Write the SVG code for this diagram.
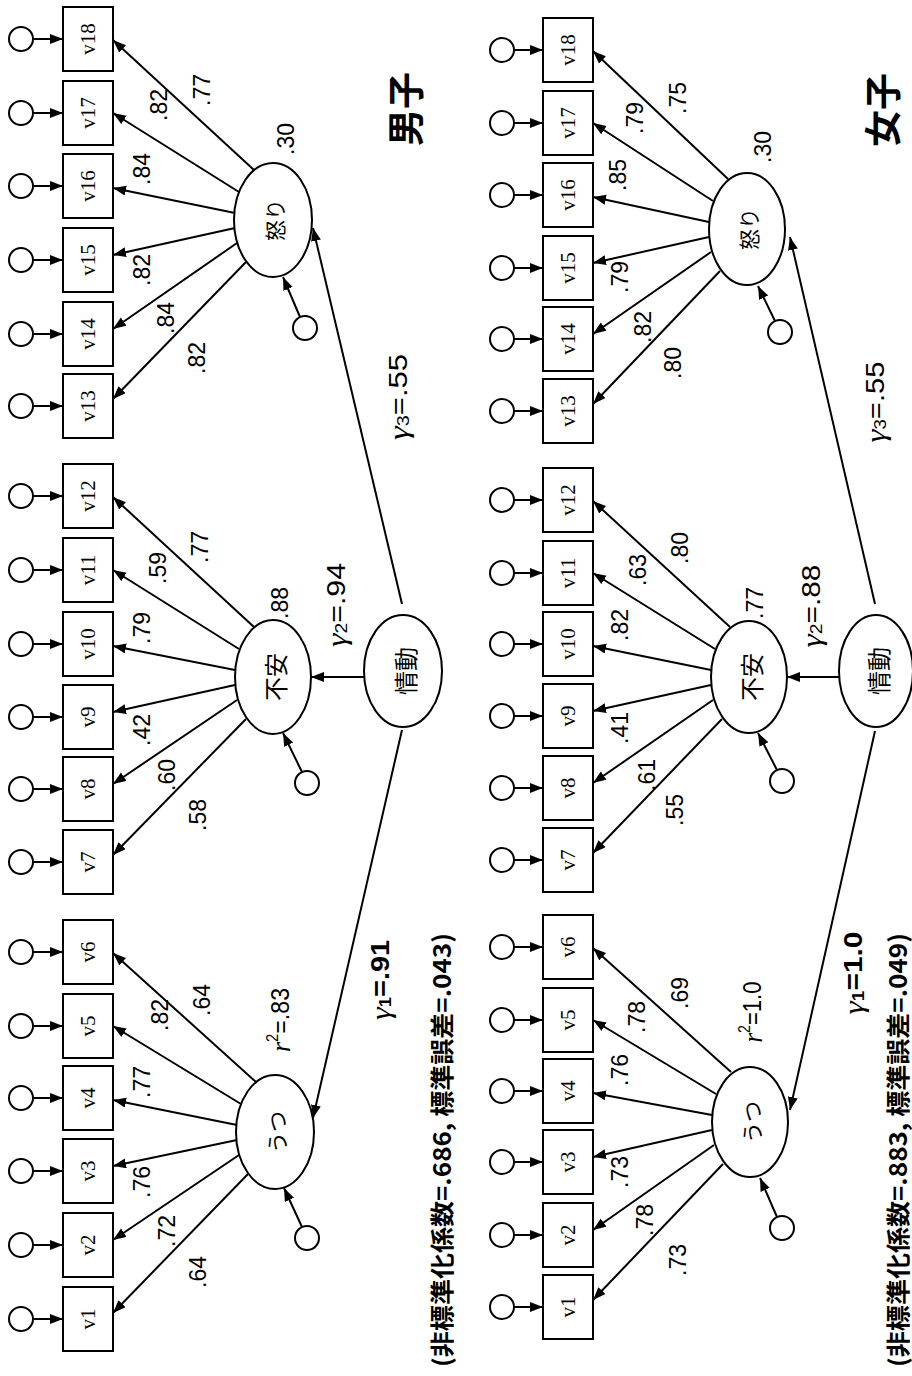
<svg xmlns="http://www.w3.org/2000/svg" width="912" height="1376" viewBox="0 0 912 1376">
<style>
.box{fill:#fff;stroke:#000;stroke-width:2}
.err{fill:#fff;stroke:#000;stroke-width:2}
.lat{fill:#fff;stroke:#000;stroke-width:2}
.ln{stroke:#000;stroke-width:2;fill:none;marker-end:url(#ah)}
text{text-anchor:middle;dominant-baseline:central}
.vl{font-family:"Liberation Serif","Times New Roman",serif;font-size:21px}
.num{font-family:"Liberation Sans",Arial,sans-serif;font-size:23px}
.lt{font-family:"Noto Sans CJK JP",sans-serif;font-size:24px}
.lts{font-family:"Noto Sans CJK JP",sans-serif;font-size:21px}
.gam{font-family:"Liberation Sans",Arial,sans-serif;font-size:25px}
.gs{font-family:"Liberation Serif",serif;font-style:italic;font-size:28px}
.sb{font-size:16px}
.ttl{font-family:"Noto Sans CJK JP",sans-serif;font-size:37px;font-weight:bold}
.cap{font-family:"Noto Sans CJK JP",sans-serif;font-size:24px;font-weight:bold}
</style>
<defs>
<marker id="ah" markerUnits="userSpaceOnUse" markerWidth="14" markerHeight="11" refX="13" refY="5" orient="auto">
<path d="M0,0 L13,5 L0,10 z" fill="#000"/>
</marker>
</defs>

<!-- ===== LEFT PANEL (男子) ===== -->
<g id="L-errors">
<circle class="err" cx="21" cy="1319" r="12"/><circle class="err" cx="21" cy="1245" r="12"/><circle class="err" cx="21" cy="1171" r="12"/>
<circle class="err" cx="21" cy="1098" r="12"/><circle class="err" cx="21" cy="1026" r="12"/><circle class="err" cx="21" cy="952" r="12"/>
<circle class="err" cx="21" cy="862" r="12"/><circle class="err" cx="21" cy="789" r="12"/><circle class="err" cx="21" cy="717" r="12"/>
<circle class="err" cx="21" cy="644" r="12"/><circle class="err" cx="21" cy="570" r="12"/><circle class="err" cx="21" cy="496" r="12"/>
<circle class="err" cx="21" cy="406" r="12"/><circle class="err" cx="21" cy="334" r="12"/><circle class="err" cx="21" cy="260" r="12"/>
<circle class="err" cx="21" cy="186" r="12"/><circle class="err" cx="21" cy="113" r="12"/><circle class="err" cx="21" cy="39" r="12"/>
</g>
<g id="L-v1"><rect class="box" x="63" y="1287" width="50" height="64"/><text class="vl" transform="translate(88,1319) rotate(-90)">v1</text></g>
<g id="L-v2"><rect class="box" x="63" y="1213" width="50" height="64"/><text class="vl" transform="translate(88,1245) rotate(-90)">v2</text></g>
<g id="L-v3"><rect class="box" x="63" y="1139" width="50" height="64"/><text class="vl" transform="translate(88,1171) rotate(-90)">v3</text></g>
<g id="L-v4"><rect class="box" x="63" y="1066" width="50" height="64"/><text class="vl" transform="translate(88,1098) rotate(-90)">v4</text></g>
<g id="L-v5"><rect class="box" x="63" y="994" width="50" height="64"/><text class="vl" transform="translate(88,1026) rotate(-90)">v5</text></g>
<g id="L-v6"><rect class="box" x="63" y="920" width="50" height="64"/><text class="vl" transform="translate(88,952) rotate(-90)">v6</text></g>
<g id="L-v7"><rect class="box" x="63" y="830" width="50" height="64"/><text class="vl" transform="translate(88,862) rotate(-90)">v7</text></g>
<g id="L-v8"><rect class="box" x="63" y="757" width="50" height="64"/><text class="vl" transform="translate(88,789) rotate(-90)">v8</text></g>
<g id="L-v9"><rect class="box" x="63" y="685" width="50" height="64"/><text class="vl" transform="translate(88,717) rotate(-90)">v9</text></g>
<g id="L-v10"><rect class="box" x="63" y="612" width="50" height="64"/><text class="vl" transform="translate(88,644) rotate(-90)">v10</text></g>
<g id="L-v11"><rect class="box" x="63" y="538" width="50" height="64"/><text class="vl" transform="translate(88,570) rotate(-90)">v11</text></g>
<g id="L-v12"><rect class="box" x="63" y="464" width="50" height="64"/><text class="vl" transform="translate(88,496) rotate(-90)">v12</text></g>
<g id="L-v13"><rect class="box" x="63" y="374" width="50" height="64"/><text class="vl" transform="translate(88,406) rotate(-90)">v13</text></g>
<g id="L-v14"><rect class="box" x="63" y="302" width="50" height="64"/><text class="vl" transform="translate(88,334) rotate(-90)">v14</text></g>
<g id="L-v15"><rect class="box" x="63" y="228" width="50" height="64"/><text class="vl" transform="translate(88,260) rotate(-90)">v15</text></g>
<g id="L-v16"><rect class="box" x="63" y="154" width="50" height="64"/><text class="vl" transform="translate(88,186) rotate(-90)">v16</text></g>
<g id="L-v17"><rect class="box" x="63" y="81" width="50" height="64"/><text class="vl" transform="translate(88,113) rotate(-90)">v17</text></g>
<g id="L-v18"><rect class="box" x="63" y="7" width="50" height="64"/><text class="vl" transform="translate(88,39) rotate(-90)">v18</text></g>

<g id="L-ikari"><ellipse class="lat" cx="273" cy="220" rx="39" ry="57"/><text class="lts" transform="translate(274,220) rotate(-90)">怒り</text></g>
<g id="L-fuan"><ellipse class="lat" cx="273" cy="677" rx="38" ry="57"/><text class="lt" transform="translate(274,677) rotate(-90)">不安</text></g>
<g id="L-utsu"><ellipse class="lat" cx="275" cy="1132" rx="39" ry="57"/><text class="lts" transform="translate(276,1132) rotate(-90)">うつ</text></g>
<g id="L-jodo"><ellipse class="lat" cx="403" cy="671" rx="39" ry="56"/><text class="lt" transform="translate(404,671) rotate(-90)">情動</text></g>
<g id="L-dist">
<circle class="err" cx="305" cy="328" r="12"/><circle class="err" cx="307" cy="783" r="12"/><circle class="err" cx="307" cy="1238" r="12"/>
</g>

<!-- ===== RIGHT PANEL (女子) ===== -->
<g id="R-errors">
<circle class="err" cx="502" cy="1307" r="12"/><circle class="err" cx="502" cy="1235" r="12"/><circle class="err" cx="502" cy="1162" r="12"/>
<circle class="err" cx="502" cy="1091" r="12"/><circle class="err" cx="502" cy="1020" r="12"/><circle class="err" cx="502" cy="947" r="12"/>
<circle class="err" cx="502" cy="860" r="12"/><circle class="err" cx="502" cy="788" r="12"/><circle class="err" cx="502" cy="716" r="12"/>
<circle class="err" cx="502" cy="644" r="12"/><circle class="err" cx="502" cy="573" r="12"/><circle class="err" cx="502" cy="500" r="12"/>
<circle class="err" cx="502" cy="411" r="12"/><circle class="err" cx="502" cy="339" r="12"/><circle class="err" cx="502" cy="268" r="12"/>
<circle class="err" cx="502" cy="195" r="12"/><circle class="err" cx="502" cy="123" r="12"/><circle class="err" cx="502" cy="50" r="12"/>
</g>
<g id="R-v1"><rect class="box" x="543" y="1275" width="50" height="64"/><text class="vl" transform="translate(568,1307) rotate(-90)">v1</text></g>
<g id="R-v2"><rect class="box" x="543" y="1203" width="50" height="64"/><text class="vl" transform="translate(568,1235) rotate(-90)">v2</text></g>
<g id="R-v3"><rect class="box" x="543" y="1130" width="50" height="64"/><text class="vl" transform="translate(568,1162) rotate(-90)">v3</text></g>
<g id="R-v4"><rect class="box" x="543" y="1059" width="50" height="64"/><text class="vl" transform="translate(568,1091) rotate(-90)">v4</text></g>
<g id="R-v5"><rect class="box" x="543" y="988" width="50" height="64"/><text class="vl" transform="translate(568,1020) rotate(-90)">v5</text></g>
<g id="R-v6"><rect class="box" x="543" y="915" width="50" height="64"/><text class="vl" transform="translate(568,947) rotate(-90)">v6</text></g>
<g id="R-v7"><rect class="box" x="543" y="828" width="50" height="64"/><text class="vl" transform="translate(568,860) rotate(-90)">v7</text></g>
<g id="R-v8"><rect class="box" x="543" y="756" width="50" height="64"/><text class="vl" transform="translate(568,788) rotate(-90)">v8</text></g>
<g id="R-v9"><rect class="box" x="543" y="684" width="50" height="64"/><text class="vl" transform="translate(568,716) rotate(-90)">v9</text></g>
<g id="R-v10"><rect class="box" x="543" y="612" width="50" height="64"/><text class="vl" transform="translate(568,644) rotate(-90)">v10</text></g>
<g id="R-v11"><rect class="box" x="543" y="541" width="50" height="64"/><text class="vl" transform="translate(568,573) rotate(-90)">v11</text></g>
<g id="R-v12"><rect class="box" x="543" y="468" width="50" height="64"/><text class="vl" transform="translate(568,500) rotate(-90)">v12</text></g>
<g id="R-v13"><rect class="box" x="543" y="379" width="50" height="64"/><text class="vl" transform="translate(568,411) rotate(-90)">v13</text></g>
<g id="R-v14"><rect class="box" x="543" y="307" width="50" height="64"/><text class="vl" transform="translate(568,339) rotate(-90)">v14</text></g>
<g id="R-v15"><rect class="box" x="543" y="236" width="50" height="64"/><text class="vl" transform="translate(568,268) rotate(-90)">v15</text></g>
<g id="R-v16"><rect class="box" x="543" y="163" width="50" height="64"/><text class="vl" transform="translate(568,195) rotate(-90)">v16</text></g>
<g id="R-v17"><rect class="box" x="543" y="91" width="50" height="64"/><text class="vl" transform="translate(568,123) rotate(-90)">v17</text></g>
<g id="R-v18"><rect class="box" x="543" y="18" width="50" height="64"/><text class="vl" transform="translate(568,50) rotate(-90)">v18</text></g>

<g id="R-ikari"><ellipse class="lat" cx="747" cy="229" rx="38" ry="56"/><text class="lts" transform="translate(748,229) rotate(-90)">怒り</text></g>
<g id="R-fuan"><ellipse class="lat" cx="749" cy="677" rx="38" ry="56"/><text class="lt" transform="translate(750,677) rotate(-90)">不安</text></g>
<g id="R-utsu"><ellipse class="lat" cx="750" cy="1122" rx="38" ry="55"/><text class="lts" transform="translate(751,1122) rotate(-90)">うつ</text></g>
<g id="R-jodo"><ellipse class="lat" cx="876" cy="671" rx="37" ry="56"/><text class="lt" transform="translate(877,671) rotate(-90)">情動</text></g>
<g id="R-dist">
<circle class="err" cx="780" cy="332" r="12"/><circle class="err" cx="782" cy="781" r="12"/><circle class="err" cx="782" cy="1228" r="12"/>
</g>

<!-- ===== CONNECTORS ===== -->
<g id="connectors">
<line class="ln" x1="33" y1="1319" x2="63" y2="1319"/><line class="ln" x1="33" y1="1245" x2="63" y2="1245"/><line class="ln" x1="33" y1="1171" x2="63" y2="1171"/>
<line class="ln" x1="33" y1="1098" x2="63" y2="1098"/><line class="ln" x1="33" y1="1026" x2="63" y2="1026"/><line class="ln" x1="33" y1="952" x2="63" y2="952"/>
<line class="ln" x1="33" y1="862" x2="63" y2="862"/><line class="ln" x1="33" y1="789" x2="63" y2="789"/><line class="ln" x1="33" y1="717" x2="63" y2="717"/>
<line class="ln" x1="33" y1="644" x2="63" y2="644"/><line class="ln" x1="33" y1="570" x2="63" y2="570"/><line class="ln" x1="33" y1="496" x2="63" y2="496"/>
<line class="ln" x1="33" y1="406" x2="63" y2="406"/><line class="ln" x1="33" y1="334" x2="63" y2="334"/><line class="ln" x1="33" y1="260" x2="63" y2="260"/>
<line class="ln" x1="33" y1="186" x2="63" y2="186"/><line class="ln" x1="33" y1="113" x2="63" y2="113"/><line class="ln" x1="33" y1="39" x2="63" y2="39"/>
<line class="ln" x1="254" y1="170" x2="113" y2="40"/><line class="ln" x1="239" y1="192" x2="113" y2="113"/><line class="ln" x1="235" y1="213" x2="113" y2="188"/>
<line class="ln" x1="235" y1="228" x2="113" y2="255"/><line class="ln" x1="237" y1="243" x2="113" y2="329"/><line class="ln" x1="246" y1="262" x2="113" y2="399"/>
<line class="ln" x1="254" y1="627" x2="113" y2="497"/><line class="ln" x1="239" y1="649" x2="113" y2="570"/><line class="ln" x1="235" y1="670" x2="113" y2="646"/>
<line class="ln" x1="235" y1="685" x2="113" y2="712"/><line class="ln" x1="237" y1="700" x2="113" y2="784"/><line class="ln" x1="246" y1="719" x2="113" y2="855"/>
<line class="ln" x1="256" y1="1082" x2="113" y2="953"/><line class="ln" x1="241" y1="1104" x2="113" y2="1026"/><line class="ln" x1="237" y1="1125" x2="113" y2="1100"/>
<line class="ln" x1="237" y1="1140" x2="113" y2="1166"/><line class="ln" x1="239" y1="1155" x2="113" y2="1240"/><line class="ln" x1="248" y1="1174" x2="113" y2="1313"/>
<line class="ln" x1="300" y1="317" x2="283" y2="277"/><line class="ln" x1="302" y1="772" x2="283" y2="733"/><line class="ln" x1="302" y1="1227" x2="284" y2="1188"/>
<line class="ln" x1="402" y1="604" x2="313" y2="228"/>
<line class="ln" x1="365" y1="677" x2="311" y2="677"/>
<line class="ln" x1="402" y1="730" x2="313" y2="1118"/>

<line class="ln" x1="514" y1="1307" x2="543" y2="1307"/><line class="ln" x1="514" y1="1235" x2="543" y2="1235"/><line class="ln" x1="514" y1="1162" x2="543" y2="1162"/>
<line class="ln" x1="514" y1="1091" x2="543" y2="1091"/><line class="ln" x1="514" y1="1020" x2="543" y2="1020"/><line class="ln" x1="514" y1="947" x2="543" y2="947"/>
<line class="ln" x1="514" y1="860" x2="543" y2="860"/><line class="ln" x1="514" y1="788" x2="543" y2="788"/><line class="ln" x1="514" y1="716" x2="543" y2="716"/>
<line class="ln" x1="514" y1="644" x2="543" y2="644"/><line class="ln" x1="514" y1="573" x2="543" y2="573"/><line class="ln" x1="514" y1="500" x2="543" y2="500"/>
<line class="ln" x1="514" y1="411" x2="543" y2="411"/><line class="ln" x1="514" y1="339" x2="543" y2="339"/><line class="ln" x1="514" y1="268" x2="543" y2="268"/>
<line class="ln" x1="514" y1="195" x2="543" y2="195"/><line class="ln" x1="514" y1="123" x2="543" y2="123"/><line class="ln" x1="514" y1="50" x2="543" y2="50"/>
<line class="ln" x1="728" y1="179" x2="593" y2="51"/><line class="ln" x1="713" y1="201" x2="593" y2="123"/><line class="ln" x1="709" y1="222" x2="593" y2="197"/>
<line class="ln" x1="709" y1="237" x2="593" y2="263"/><line class="ln" x1="711" y1="252" x2="593" y2="334"/><line class="ln" x1="720" y1="271" x2="593" y2="404"/>
<line class="ln" x1="730" y1="627" x2="593" y2="501"/><line class="ln" x1="715" y1="649" x2="593" y2="573"/><line class="ln" x1="711" y1="670" x2="593" y2="646"/>
<line class="ln" x1="711" y1="685" x2="593" y2="711"/><line class="ln" x1="713" y1="700" x2="593" y2="783"/><line class="ln" x1="722" y1="719" x2="593" y2="853"/>
<line class="ln" x1="731" y1="1072" x2="593" y2="948"/><line class="ln" x1="716" y1="1094" x2="593" y2="1020"/><line class="ln" x1="712" y1="1115" x2="593" y2="1093"/>
<line class="ln" x1="712" y1="1130" x2="593" y2="1157"/><line class="ln" x1="714" y1="1145" x2="593" y2="1230"/><line class="ln" x1="723" y1="1164" x2="593" y2="1300"/>
<line class="ln" x1="775" y1="321" x2="758" y2="286"/><line class="ln" x1="777" y1="770" x2="758" y2="733"/><line class="ln" x1="777" y1="1217" x2="760" y2="1178"/>
<line class="ln" x1="875" y1="604" x2="790" y2="237"/>
<line class="ln" x1="839" y1="677" x2="787" y2="677"/>
<line class="ln" x1="875" y1="731" x2="790" y2="1110"/>
</g>

<!-- ===== LABELS ===== -->
<g id="L-labels">
<text class="num" transform="translate(202,90) rotate(-90)">.77</text>
<text class="num" transform="translate(159,105) rotate(-90)">.82</text>
<text class="num" transform="translate(142,169) rotate(-90)">.84</text>
<text class="num" transform="translate(142,270) rotate(-90)">.82</text>
<text class="num" transform="translate(166,318) rotate(-90)">.84</text>
<text class="num" transform="translate(197,358) rotate(-90)">.82</text>
<text class="num" transform="translate(286,139) rotate(-90)">.30</text>
<text class="num" transform="translate(200,547) rotate(-90)">.77</text>
<text class="num" transform="translate(158,568) rotate(-90)">.59</text>
<text class="num" transform="translate(142,628) rotate(-90)">.79</text>
<text class="num" transform="translate(142,730) rotate(-90)">.42</text>
<text class="num" transform="translate(167,775) rotate(-90)">.60</text>
<text class="num" transform="translate(198,815) rotate(-90)">.58</text>
<text class="num" transform="translate(280,603) rotate(-90)">.88</text>
<text class="num" transform="translate(202,1000) rotate(-90)">.64</text>
<text class="num" transform="translate(160,1015) rotate(-90)">.82</text>
<text class="num" transform="translate(142,1082) rotate(-90)">.77</text>
<text class="num" transform="translate(142,1182) rotate(-90)">.76</text>
<text class="num" transform="translate(167,1231) rotate(-90)">.72</text>
<text class="num" transform="translate(198,1272) rotate(-90)">.64</text>
<text class="gam" transform="translate(280,1020) rotate(-90)" textLength="64" lengthAdjust="spacingAndGlyphs"><tspan class="gs">r</tspan><tspan class="sb" dy="-8">2</tspan><tspan dy="8">=.83</tspan></text>
<text class="gam" transform="translate(336,605) rotate(-90)" textLength="84" lengthAdjust="spacingAndGlyphs"><tspan class="gs">γ</tspan><tspan class="sb" dy="5">2</tspan><tspan dy="-5">=.94</tspan></text>
<text class="gam" transform="translate(380,980) rotate(-90)" font-weight="bold" textLength="80" lengthAdjust="spacingAndGlyphs"><tspan class="gs" font-weight="normal">γ</tspan><tspan class="sb" dy="5">1</tspan><tspan dy="-5">=.91</tspan></text>
<text class="gam" transform="translate(398,397) rotate(-90)" textLength="86" lengthAdjust="spacingAndGlyphs"><tspan class="gs">γ</tspan><tspan class="sb" dy="5">3</tspan><tspan dy="-5">=.55</tspan></text>
<text class="ttl" transform="translate(404,109) rotate(-90)">男子</text>
<text class="cap" transform="translate(440,1150) rotate(-90)" textLength="434" lengthAdjust="spacingAndGlyphs">(非標準化係数=.686, 標準誤差=.043)</text>
</g>
<g id="R-labels">
<text class="num" transform="translate(678,98) rotate(-90)">.75</text>
<text class="num" transform="translate(635,118) rotate(-90)">.79</text>
<text class="num" transform="translate(618,175) rotate(-90)">.85</text>
<text class="num" transform="translate(620,277) rotate(-90)">.79</text>
<text class="num" transform="translate(643,327) rotate(-90)">.82</text>
<text class="num" transform="translate(673,363) rotate(-90)">.80</text>
<text class="num" transform="translate(763,147) rotate(-90)">.30</text>
<text class="num" transform="translate(680,548) rotate(-90)">.80</text>
<text class="num" transform="translate(638,570) rotate(-90)">.63</text>
<text class="num" transform="translate(620,625) rotate(-90)">.82</text>
<text class="num" transform="translate(620,728) rotate(-90)">.41</text>
<text class="num" transform="translate(647,775) rotate(-90)">.61</text>
<text class="num" transform="translate(675,810) rotate(-90)">.55</text>
<text class="num" transform="translate(755,603) rotate(-90)">.77</text>
<text class="num" transform="translate(680,993) rotate(-90)">.69</text>
<text class="num" transform="translate(637,1017) rotate(-90)">.78</text>
<text class="num" transform="translate(620,1070) rotate(-90)">.76</text>
<text class="num" transform="translate(620,1172) rotate(-90)">.73</text>
<text class="num" transform="translate(645,1220) rotate(-90)">.78</text>
<text class="num" transform="translate(678,1260) rotate(-90)">.73</text>
<text class="gam" transform="translate(752,1012) rotate(-90)" textLength="61" lengthAdjust="spacingAndGlyphs"><tspan class="gs">r</tspan><tspan class="sb" dy="-8">2</tspan><tspan dy="8">=1.0</tspan></text>
<text class="gam" transform="translate(811,606) rotate(-90)" textLength="83" lengthAdjust="spacingAndGlyphs"><tspan class="gs">γ</tspan><tspan class="sb" dy="5">2</tspan><tspan dy="-5">=.88</tspan></text>
<text class="gam" transform="translate(853,973) rotate(-90)" font-weight="bold" textLength="83" lengthAdjust="spacingAndGlyphs"><tspan class="gs" font-weight="normal">γ</tspan><tspan class="sb" dy="5">1</tspan><tspan dy="-5">=1.0</tspan></text>
<text class="gam" transform="translate(875,402) rotate(-90)" textLength="81" lengthAdjust="spacingAndGlyphs"><tspan class="gs">γ</tspan><tspan class="sb" dy="5">3</tspan><tspan dy="-5">=.55</tspan></text>
<text class="ttl" transform="translate(881,110) rotate(-90)">女子</text>
<text class="cap" transform="translate(896,1150) rotate(-90)" textLength="434" lengthAdjust="spacingAndGlyphs">(非標準化係数=.883, 標準誤差=.049)</text>
</g>
</svg>
